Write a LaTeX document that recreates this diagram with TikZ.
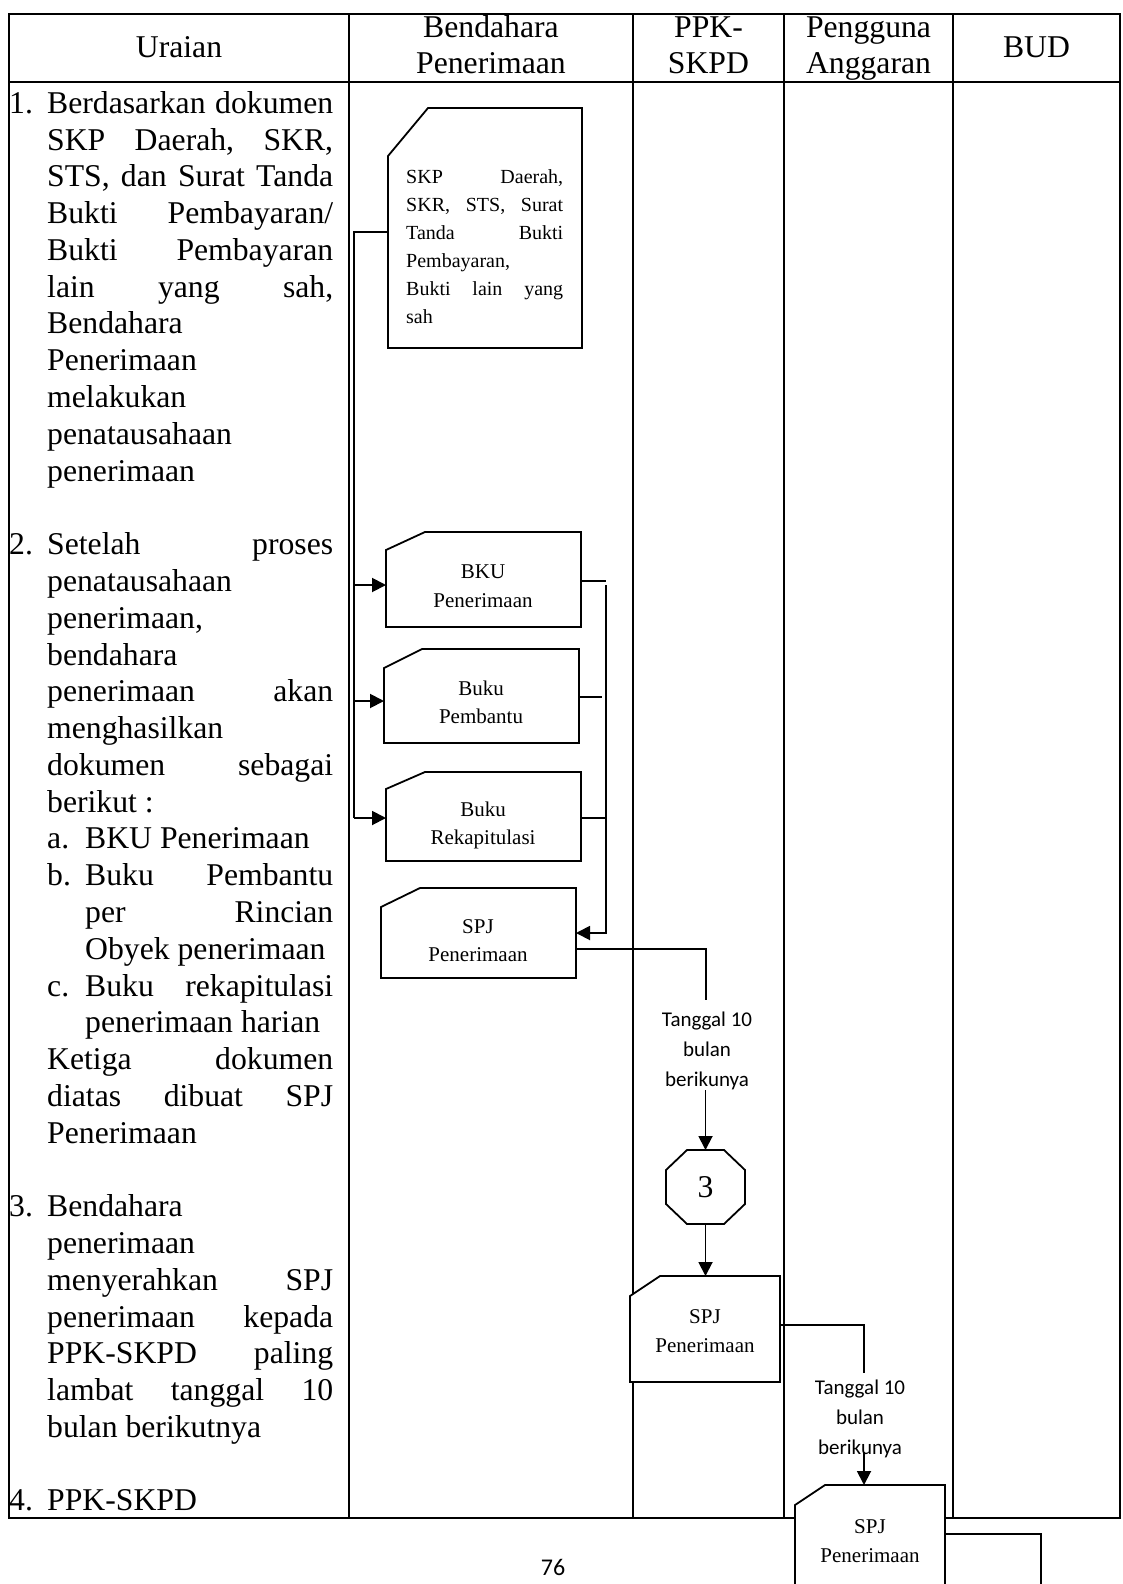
\documentclass[tikz,border=0pt]{standalone}
\usepackage{fontspec}
\setmainfont{Liberation Serif}
\newfontfamily\calfont{Carlito}
\usetikzlibrary{arrows.meta,calc}

% text sizes
\newcommand\bodyfont{\fontsize{31.7pt}{36.8pt}\selectfont\frenchspacing}
\newcommand\smallbox{\fontsize{20pt}{24pt}\selectfont\frenchspacing}
\newcommand\boxfont{\fontsize{21pt}{25pt}\selectfont}
% justified line of a given width
\newcommand\jst[2]{\makebox[#1pt][s]{#2}}
% one line of the description column, k-th baseline
\newcommand\uline[4]{\node[body] (#1) at (#3,{-(113.3+36.78*#2)}) {#4};}
% document symbol with a cut top-left corner
\newcommand\docoutline[3]{\draw[docline] ([yshift=-#3pt]#1.north west) -- ([xshift=#2pt]#1.north west) -- (#1.north east) -- (#1.south east) -- (#1.south west) -- cycle;}

\begin{document}
\begin{tikzpicture}[x=1pt,y=1pt,
  grid/.style={line width=2.3pt},
  conn/.style={line width=1.9pt},
  arr/.style={conn,-{Triangle[length=14pt,width=14pt]}},
  docline/.style={line width=1.8pt,fill=white},
  docnode/.style={rectangle,inner sep=0pt,outer sep=0pt,draw=none},
  body/.style={anchor=base west,inner sep=0pt,font=\bodyfont},
  head/.style={anchor=base,inner sep=0pt,font=\bodyfont},
  btxt/.style={anchor=base,inner sep=0pt,font=\boxfont},
  stxt/.style={anchor=base west,inner sep=0pt,font=\smallbox},
  lbl/.style={align=center,inner sep=0pt,font=\calfont\fontsize{21pt}{30pt}\selectfont},
]
\useasboundingbox (0,0) rectangle (1122,-1584);
\fill[white] (0,0) rectangle (1122,-1584);

% ---- column headers
\node[head] (hU)  at (179,-57.5) {Uraian};
\node[head] (hB1) at (491,-37.5) {Bendahara};
\node[head] (hB2) at (491,-74) {Penerimaan};
\node[head] (hP1) at (708.5,-37.5) {PPK-};
\node[head] (hP2) at (708.5,-74) {SKPD};
\node[head] (hA1) at (868.5,-37.5) {Pengguna};
\node[head] (hA2) at (868.5,-74) {Anggaran};
\node[head] (hD)  at (1036.5,-57.5) {BUD};

% ---- description column
\uline{n1}{0}{9}{1.}
\uline{u0}{0}{47}{\jst{286}{Berdasarkan dokumen}}
\uline{u1}{1}{47}{\jst{286}{SKP Daerah, SKR,}}
\uline{u2}{2}{47}{\jst{286}{STS, dan Surat Tanda}}
\uline{u3}{3}{47}{\jst{286}{Bukti Pembayaran/}}
\uline{u4}{4}{47}{\jst{286}{Bukti Pembayaran}}
\uline{u5}{5}{47}{\jst{286}{lain yang sah,}}
\uline{u6}{6}{47}{Bendahara}
\uline{u7}{7}{47}{Penerimaan}
\uline{u8}{8}{47}{melakukan}
\uline{u9}{9}{47}{penatausahaan}
\uline{u10}{10}{47}{penerimaan}

\uline{n2}{12}{9}{2.}
\uline{u12}{12}{47}{\jst{286}{Setelah proses}}
\uline{u13}{13}{47}{penatausahaan}
\uline{u14}{14}{47}{penerimaan,}
\uline{u15}{15}{47}{bendahara}
\uline{u16}{16}{47}{\jst{286}{penerimaan akan}}
\uline{u17}{17}{47}{menghasilkan}
\uline{u18}{18}{47}{\jst{286}{dokumen sebagai}}
\uline{u19}{19}{47}{berikut :}
\uline{la}{20}{47}{a.}
\uline{u20}{20}{85}{BKU Penerimaan}
\uline{lb}{21}{47}{b.}
\uline{u21}{21}{85}{\jst{248}{Buku Pembantu}}
\uline{u22}{22}{85}{\jst{248}{per Rincian}}
\uline{u23}{23}{85}{Obyek penerimaan}
\uline{lc}{24}{47}{c.}
\uline{u24}{24}{85}{\jst{248}{Buku rekapitulasi}}
\uline{u25}{25}{85}{penerimaan harian}
\uline{u26}{26}{47}{\jst{286}{Ketiga dokumen}}
\uline{u27}{27}{47}{\jst{286}{diatas dibuat SPJ}}
\uline{u28}{28}{47}{Penerimaan}

\uline{n3}{30}{9}{3.}
\uline{u30}{30}{47}{Bendahara}
\uline{u31}{31}{47}{penerimaan}
\uline{u32}{32}{47}{\jst{286}{menyerahkan SPJ}}
\uline{u33}{33}{47}{\jst{286}{penerimaan kepada}}
\uline{u34}{34}{47}{\jst{286}{PPK-SKPD paling}}
\uline{u35}{35}{47}{\jst{286}{lambat tanggal 10}}
\uline{u36}{36}{47}{bulan berikutnya}

\uline{n4}{38}{9}{4.}
\uline{u38}{38}{47}{PPK-SKPD}

% ---- table rules
\draw[grid] (9,-14) rectangle (1120,-1518);
\draw[grid] (9,-82) -- (1120,-82);
\foreach \x in {349,633,784,953} \draw[grid] (\x,-14) -- (\x,-1518);

% ---- flow symbols (placement)
\node[docnode,minimum width=194pt,minimum height=240pt] (skp)   at (485,-228) {};
\node[docnode,minimum width=195pt,minimum height=95pt]  (bku)   at (483.5,-579.5) {};
\node[docnode,minimum width=195pt,minimum height=94pt]  (pemb)  at (481.5,-696) {};
\node[docnode,minimum width=195pt,minimum height=89pt]  (rekap) at (483.5,-816.5) {};
\node[docnode,minimum width=195pt,minimum height=90pt]  (spj1)  at (478.5,-933) {};
\node[docnode,minimum width=150pt,minimum height=106pt] (spj2)  at (705,-1329) {};
\node[docnode,minimum width=150pt,minimum height=120pt] (spj3)  at (870,-1545) {};
\node[docnode,minimum width=79pt,minimum height=74pt]   (oct)   at (705.5,-1187) {};

\node[lbl] (t1) at (707,-1051) {Tanggal 10\\bulan\\berikunya};
\node[lbl] (t2) at (860,-1419) {Tanggal 10\\bulan\\berikunya};

% ---- connectors
\coordinate (bl1) at (354,-232);
\coordinate (bl2) at (354,-818);
\coordinate (j1) at (354,-585);
\coordinate (j2) at (354,-701);
\draw[conn] (bl1 -| skp.west) -- (bl1) -- (bl2);
\draw[arr] (j1) -- (j1 -| bku.west);
\draw[arr] (j2) -- (j2 -| pemb.west);
\draw[arr] (bl2) -- (bl2 -| rekap.west);

\coordinate (s1) at (606,-581);
\coordinate (s2) at (602,-697);
\coordinate (s3) at (606,-818);
\coordinate (br1) at (606,-585);
\coordinate (br2) at (606,-933);
\draw[conn] (s1 -| bku.east) -- (s1);
\draw[conn] (s2 -| pemb.east) -- (s2);
\draw[conn] (s3 -| rekap.east) -- (s3);
\draw[arr] (br1) -- (br2) -- (br2 -| spj1.east);

\coordinate (c1) at (706,-949);
\coordinate (c1b) at (706,-1000);
\draw[conn] (c1 -| spj1.east) -- (c1) -- (c1b);
\draw[arr] (oct.north |- t1.south) -- (oct.north);
\draw[arr] (oct.south) -- (oct.south |- spj2.north);

\coordinate (c2) at (864,-1325);
\coordinate (c2b) at (864,-1373);
\coordinate (a2) at (864,-1452);
\draw[conn] (c2 -| spj2.east) -- (c2) -- (c2b);
\draw[arr] (a2) -- (a2 |- spj3.north);

\coordinate (c3) at (1041,-1534);
\coordinate (c3b) at (1041,-1590);
\draw[conn] (c3 -| spj3.east) -- (c3) -- (c3b);

% ---- symbol outlines
\docoutline{skp}{40}{48}
\docoutline{bku}{39}{18}
\docoutline{pemb}{38}{19}
\docoutline{rekap}{39}{17}
\docoutline{spj1}{39}{19}
\docoutline{spj2}{30}{20}
\docoutline{spj3}{30}{20}
\draw[docline] ([xshift=21pt]oct.north west) -- ([xshift=-21pt]oct.north east)
  -- ([yshift=-20pt]oct.north east) -- ([yshift=20pt]oct.south east)
  -- ([xshift=-21pt]oct.south east) -- ([xshift=21pt]oct.south west)
  -- ([yshift=20pt]oct.south west) -- ([yshift=-20pt]oct.north west) -- cycle;
\node[font=\bodyfont,inner sep=0pt] (oct3) at (oct.center) {3};

% ---- symbol texts
\node[stxt] (k1) at (406,-183.5) {\jst{157}{SKP Daerah,}};
\node[stxt] (k2) at (406,-211.5) {\jst{157}{SKR, STS, Surat}};
\node[stxt] (k3) at (406,-239.5) {\jst{157}{Tanda Bukti}};
\node[stxt] (k4) at (406,-267.5) {Pembayaran,};
\node[stxt] (k5) at (406,-295.5) {\jst{157}{Bukti lain yang}};
\node[stxt] (k6) at (406,-323.5) {sah};

\node[btxt] (b1) at (483,-578) {BKU};
\node[btxt] (b2) at (483,-607) {Penerimaan};
\node[btxt] (p1) at (481,-695) {Buku};
\node[btxt] (p2) at (481,-723) {Pembantu};
\node[btxt] (r1) at (483,-816) {Buku};
\node[btxt] (r2) at (483,-844) {Rekapitulasi};
\node[btxt] (q1) at (478,-933) {SPJ};
\node[btxt] (q2) at (478,-961) {Penerimaan};
\node[btxt] (w1) at (705,-1323) {SPJ};
\node[btxt] (w2) at (705,-1352) {Penerimaan};
\node[btxt] (v1) at (870,-1533) {SPJ};
\node[btxt] (v2) at (870,-1562) {Penerimaan};

% ---- page number
\node[font=\calfont\fontsize{24pt}{28pt}\selectfont,inner sep=0pt] (pg) at (553,-1567) {76};
\end{tikzpicture}
\end{document}
